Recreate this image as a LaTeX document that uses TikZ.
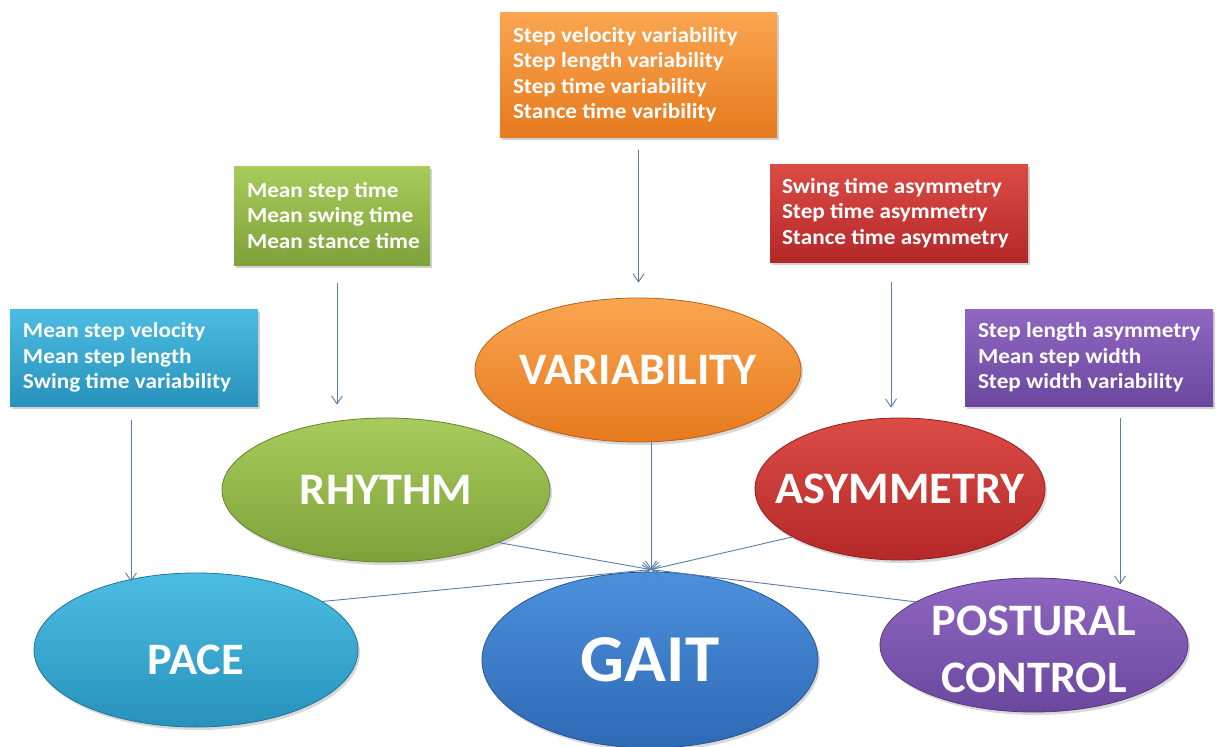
\documentclass[tikz,border=0pt]{standalone}
\usepackage{fontspec}
\setmainfont{Carlito}
\newfontfamily\wideCarlito{Carlito}[FakeStretch=1.08]
\newfontfamily\bigCarlito{Carlito}[FakeStretch=1.03]
\usetikzlibrary{arrows.meta,shadows,shapes.geometric}
\definecolor{arrowc}{HTML}{5A7DAA}
\definecolor{oTop}{HTML}{FAA550}
\definecolor{oBot}{HTML}{E67A1E}
\definecolor{gTop}{HTML}{A8CB5C}
\definecolor{gBot}{HTML}{7EA23A}
\definecolor{rTop}{HTML}{DC4C46}
\definecolor{rBot}{HTML}{B42828}
\definecolor{cTop}{HTML}{4CBDE2}
\definecolor{cBot}{HTML}{2792BC}
\definecolor{pTop}{HTML}{9067C2}
\definecolor{pBot}{HTML}{6B479E}
\definecolor{bTop}{HTML}{4C90DC}
\definecolor{bBot}{HTML}{2E69B4}
\begin{document}
\begin{tikzpicture}[x=1pt,y=-1pt,
  infobox/.style={rectangle, inner sep=0pt, draw=none,
    drop shadow={opacity=0.35,shadow xshift=2pt,shadow yshift=-3pt}},
  infotext/.style={anchor=west, inner sep=0pt, align=left, text=white,
    font=\wideCarlito\fontsize{21.5}{25.5}\selectfont\bfseries},
  oval/.style={ellipse, inner sep=0pt, line width=0.8pt,
    drop shadow={opacity=0.3,shadow xshift=2pt,shadow yshift=-3pt}},
  ovaltext/.style={inner sep=0pt, align=center, text=white,
    font=\bigCarlito\fontsize{45}{57}\selectfont\bfseries},
  arr/.style={draw=arrowc, line width=0.9pt, -{Straight Barb[length=8pt,width=11pt]}},
  orangefill/.style={top color=oTop, bottom color=oBot},
  greenfill/.style={top color=gTop, bottom color=gBot},
  redfill/.style={top color=rTop, bottom color=rBot},
  cyanfill/.style={top color=cTop, bottom color=cBot},
  purplefill/.style={top color=pTop, bottom color=pBot},
  bluefill/.style={top color=bTop, bottom color=bBot}]
\fill[white] (0,0) rectangle (1216,747);
\useasboundingbox (0,0) rectangle (1216,747);

% info boxes
\node[infobox, orangefill, minimum width=277pt, minimum height=125pt] (obox) at (638.5,74.5) {};
\node[infotext] (otxt) at ([xshift=13pt]obox.west) {Step velocity variability\\Step length variability\\Step time variability\\Stance time varibility};
\node[infobox, greenfill, minimum width=196pt, minimum height=99pt] (gbox) at (332,215.5) {};
\node[infotext] (gtxt) at ([xshift=13pt]gbox.west) {Mean step time\\Mean swing time\\Mean stance time};
\node[infobox, redfill, minimum width=258pt, minimum height=98pt] (rbox) at (899,213) {};
\node[infotext] (rtxt) at ([xshift=12pt]rbox.west) {Swing time asymmetry\\Step time asymmetry\\Stance time asymmetry};
\node[infobox, cyanfill, minimum width=248pt, minimum height=97pt] (cbox) at (134,357.5) {};
\node[infotext] (ctxt) at ([xshift=13pt]cbox.west) {Mean step velocity\\Mean step length\\Swing time variability};
\node[infobox, purplefill, minimum width=248pt, minimum height=97pt] (pbox) at (1089,357.5) {};
\node[infotext] (ptxt) at ([xshift=13pt]pbox.west) {Step length asymmetry\\Mean step width\\Step width variability};

% ellipses
\node[oval, orangefill, draw=oBot!80!black, minimum width=326pt, minimum height=144pt] (var) at (638,370) {};
\node[ovaltext] (vart) at (var) {VARIABILITY};
\node[oval, greenfill, draw=gBot!80!black, minimum width=328pt, minimum height=144pt] (rhythm) at (386,490) {};
\node[ovaltext] (rhythmt) at (rhythm) {RHYTHM};
\node[oval, redfill, draw=rBot!80!black, minimum width=290pt, minimum height=142pt] (asym) at (900,489) {};
\node[ovaltext] (asymt) at (asym) {ASYMMETRY};
\node[oval, cyanfill, draw=cBot!80!black, minimum width=324pt, minimum height=154pt] (pace) at (196,650) {};
\node[ovaltext] (pacet) at ([yshift=-10pt]pace.center) {PACE};
\node[oval, bluefill, draw=bBot!80!black, minimum width=336pt, minimum height=176pt] (gait) at (650,660) {};
\node[ovaltext, font=\bigCarlito\fontsize{67}{70}\selectfont\bfseries] (gaitt) at (gait) {GAIT};
\node[oval, purplefill, draw=pBot!80!black, minimum width=308pt, minimum height=134pt] (post) at (1034,645) {};
\node[ovaltext] (postt) at ([yshift=-4pt]post.center) {POSTURAL\\CONTROL};

\coordinate (conv) at ([xshift=1pt,yshift=2pt]gait.north);

% vertical arrows
\draw[arr] ([yshift=-13pt]obox.south) -- ([yshift=15pt]obox.south |- var.north);
\draw[arr] ([xshift=5pt,yshift=-18pt]gbox.south) coordinate (g1) -- ([yshift=13pt]g1 |- rhythm.north);
\draw[arr] ([xshift=-8pt,yshift=-20pt]rbox.south) coordinate (r1) -- ([yshift=10pt]r1 |- asym.north);
\draw[arr] ([xshift=-3pt,yshift=-14pt]cbox.south) coordinate (c1) -- ([yshift=-9pt]c1 |- pace.north);
\draw[arr] ([xshift=31pt,yshift=-12pt]pbox.south) coordinate (p1) -- ([yshift=-7pt]p1 |- post.north);

% converging arrows
\draw[arr] ([xshift=13pt]var.south) -- (conv);
\draw[arr] (pace.21) -- (conv);
\draw[arr] (rhythm.-25) -- (conv);
\draw[arr] (asym.204) -- (conv);
\draw[arr] (post.160) -- (conv);
\end{tikzpicture}
\end{document}
